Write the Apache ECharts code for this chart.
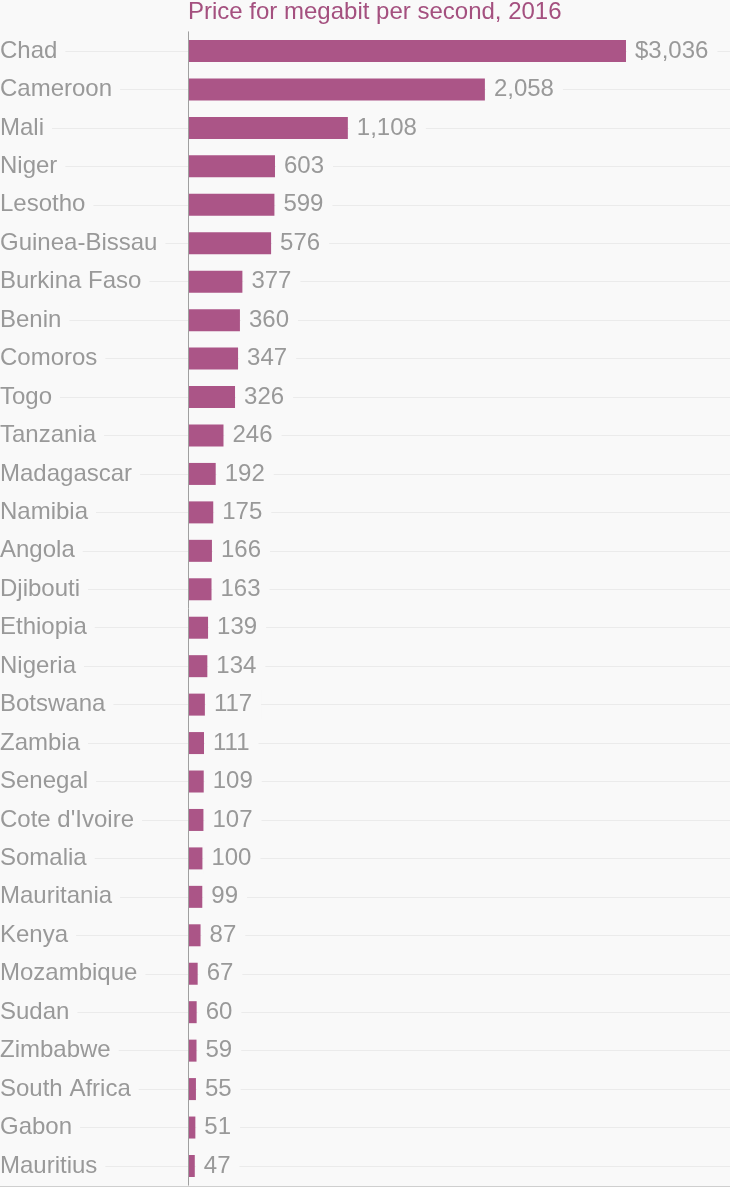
<!DOCTYPE html>
<html>
<head>
<meta charset="utf-8">
<script src="https://cdn.jsdelivr.net/npm/echarts@6/dist/echarts.min.js"></script>
<style>
html,body{margin:0;padding:0;background:#f9f9f9;}
#chart{width:730px;height:1187px;}
</style>
</head>
<body>
<div id="chart"></div>
<script>
var countries = ["Chad","Cameroon","Mali","Niger","Lesotho","Guinea-Bissau","Burkina Faso","Benin","Comoros","Togo","Tanzania","Madagascar","Namibia","Angola","Djibouti","Ethiopia","Nigeria","Botswana","Zambia","Senegal","Cote d'Ivoire","Somalia","Mauritania","Kenya","Mozambique","Sudan","Zimbabwe","South Africa","Gabon","Mauritius"];
var prices = [3036,2058,1108,603,599,576,377,360,347,326,246,192,175,166,163,139,134,117,111,109,107,100,99,87,67,60,59,55,51,47];
var titleText = "Price for megabit per second, 2016";

var FONT = "'Liberation Sans', Arial, sans-serif";
var FS = 24;
var chart = echarts.init(document.getElementById('chart'), null, {renderer:'canvas'});
function fmt(v){ return v.toString().replace(/\B(?=(\d{3})+(?!\d))/g, ','); }
chart.setOption({
  backgroundColor: '#f9f9f9',
  animation: false,
  title: {
    text: titleText, left: 188, top: 0, padding: 0,
    textStyle: {color: '#a4507f', fontSize: FS, fontWeight: 'normal', fontFamily: FONT}
  },
  grid: [
    {left: 188, right: 0, top: 31.8, bottom: 1.8, containLabel: false, outerBoundsMode: 'none'},
    {left: 0, right: 0, top: 51, bottom: 21, containLabel: false, outerBoundsMode: 'none'}
  ],
  xAxis: [
    {gridIndex: 0, type: 'value', min: 0, max: 3757, show: false},
    {gridIndex: 1, type: 'value', min: 0, max: 1, z: -1,
     axisLine: {show: true, lineStyle: {color: '#cfcfcf', width: 1}}, offset: 20,
     axisTick: {show: false}, axisLabel: {show: false}, splitLine: {show: false}}
  ],
  yAxis: [
    {gridIndex: 0, type: 'category', data: countries, inverse: true, z: 3,
     axisLine: {show: true, lineStyle: {color: '#a0a0a0', width: 1}},
     axisTick: {show: false},
     axisLabel: {align: 'left', margin: 188, color: '#999999', fontSize: FS, fontFamily: FONT,
       backgroundColor: '#f9f9f9', padding: [4, 8, 2, 0]},
     splitLine: {show: false}},
    {gridIndex: 1, type: 'category', data: countries, inverse: true, boundaryGap: false, z: -1,
     axisLine: {show: false}, axisTick: {show: false}, axisLabel: {show: false},
     splitLine: {show: true, lineStyle: {color: '#ebebeb', width: 1}}}
  ],
  series: [{
    type: 'bar', xAxisIndex: 0, yAxisIndex: 0, data: prices, barWidth: 22,
    itemStyle: {color: '#ab5587'},
    label: {show: true, position: 'right', distance: 1, color: '#999999', fontSize: FS, fontFamily: FONT,
      backgroundColor: '#f9f9f9', padding: [4, 9, 2, 8],
      formatter: function(p){ return (p.dataIndex === 0 ? '$' : '') + fmt(p.value); }}
  }]
});
</script>
</body>
</html>
